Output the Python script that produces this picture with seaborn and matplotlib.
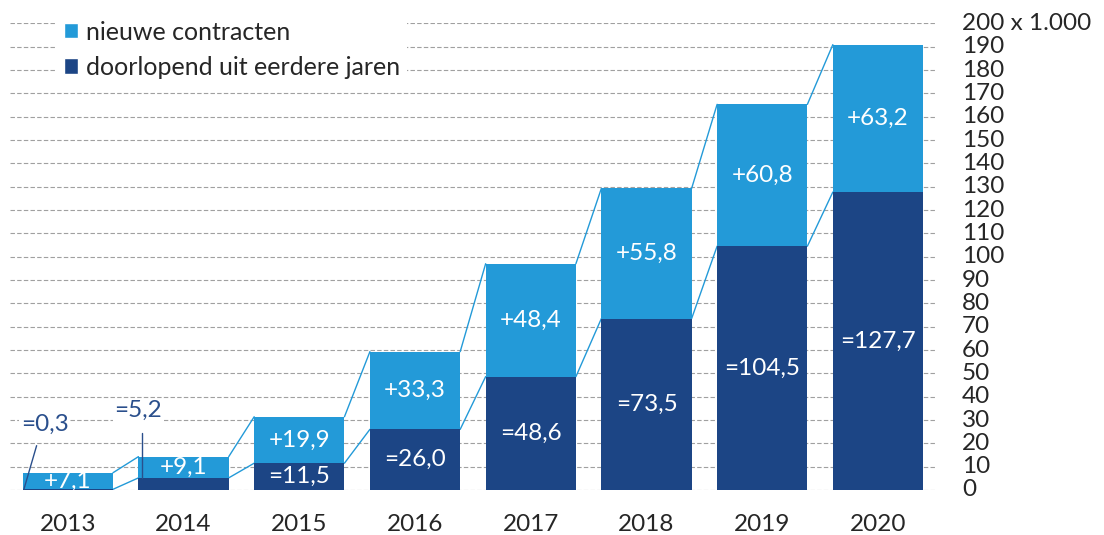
import matplotlib
matplotlib.use("Agg")
import matplotlib.pyplot as plt
import seaborn as sns
from matplotlib.patches import Patch

# ---- data ----
years = ["2013", "2014", "2015", "2016", "2017", "2018", "2019", "2020"]
doorlopend = [0.3, 5.2, 11.5, 26.0, 48.6, 73.5, 104.5, 127.7]
nieuw = [7.1, 9.1, 19.9, 33.3, 48.4, 55.8, 60.8, 63.2]
ytick_values = list(range(0, 201, 10))
ytick_labels = [str(v) for v in range(0, 191, 10)] + ["200 x 1.000"]
legend_labels = ["nieuwe contracten", "doorlopend uit eerdere jaren"]

LIGHT = "#239AD8"
DARK = "#1C4585"
LABEL_DARK = "#2A4F8C"
TEXT = "#262626"
FS = 17.5

sns.set_theme(style="white")
plt.rcParams["font.family"] = ["Lato", "DejaVu Sans"]

fig = plt.figure(figsize=(11.04, 5.35), dpi=100)
ax = fig.add_axes([10 / 1104, 1 - 490 / 535, (937 - 10) / 1104, (490 - 23.4) / 535])

totals = [d + n for d, n in zip(doorlopend, nieuw)]
W = 0.78
sns.barplot(x=years, y=totals, color=LIGHT, saturation=1, width=W, ax=ax,
            zorder=3, linewidth=0, edgecolor="none")
sns.barplot(x=years, y=doorlopend, color=DARK, saturation=1, width=W, ax=ax,
            zorder=3, linewidth=0, edgecolor="none")

ax.set_xlim(-0.5, 7.51)
ax.set_ylim(0, 200)
ax.set_yticks(ytick_values)
ax.set_yticklabels(ytick_labels)
ax.yaxis.tick_right()
ax.yaxis.set_label_position("right")
ax.set_xlabel("")
ax.set_ylabel("")
ax.tick_params(axis="y", length=0, pad=18, labelsize=FS, labelcolor=TEXT)
ax.tick_params(axis="x", length=0, pad=17, labelsize=FS, labelcolor=TEXT)
for lab in ax.get_yticklabels():
    lab.set_verticalalignment("center")
ax.yaxis.grid(True, linestyle=(0, (4, 2)), color="#a0a0a0", linewidth=0.8, zorder=0)
ax.set_axisbelow(True)
for s in ax.spines.values():
    s.set_visible(False)

# connector lines
for i in range(len(years) - 1):
    x0 = i + W / 2
    x1 = i + 1 - W / 2
    ax.plot([x0, x1], [totals[i], totals[i + 1]], color=LIGHT, lw=1.0, zorder=2)
    ax.plot([x0, x1], [doorlopend[i], doorlopend[i + 1]], color=LIGHT, lw=1.0, zorder=2)

def fmt(v):
    return f"{v:.1f}".replace(".", ",")

# labels
for i in range(len(years)):
    ax.text(i, doorlopend[i] + nieuw[i] / 2, "+" + fmt(nieuw[i]), ha="center", va="center",
            color="white", fontsize=FS, zorder=5)
    if i >= 2:
        ax.text(i, doorlopend[i] / 2, "=" + fmt(doorlopend[i]), ha="center", va="center",
                color="white", fontsize=FS, zorder=5)

# outside labels for the first two years
ax.text(-0.2, 28, "=" + fmt(doorlopend[0]), ha="center", va="center", color=LABEL_DARK,
        fontsize=FS, zorder=4, bbox=dict(facecolor="white", edgecolor="none", pad=1))
ax.plot([-0.27, -0.38], [19, doorlopend[0]], color=LABEL_DARK, lw=1.0, zorder=4)
ax.text(0.61, 34, "=" + fmt(doorlopend[1]), ha="center", va="center", color=LABEL_DARK,
        fontsize=FS, zorder=4, bbox=dict(facecolor="white", edgecolor="none", pad=1))
ax.plot([0.637, 0.637], [24.5, doorlopend[1]], color=LABEL_DARK, lw=1.0, zorder=4)

handles = [Patch(facecolor=LIGHT, label=legend_labels[0]),
           Patch(facecolor=DARK, label=legend_labels[1])]
fig.legend(handles=handles, loc="upper left", bbox_to_anchor=(56 / 1104, 1 - 13 / 535),
           frameon=True, facecolor="white", edgecolor="none", framealpha=1, fancybox=False,
           fontsize=18, handlelength=0.58, handleheight=0.58, handletextpad=0.3,
           labelspacing=0.5, borderpad=0.3, borderaxespad=0, labelcolor=TEXT)

fig.savefig("out.png", dpi=100)
